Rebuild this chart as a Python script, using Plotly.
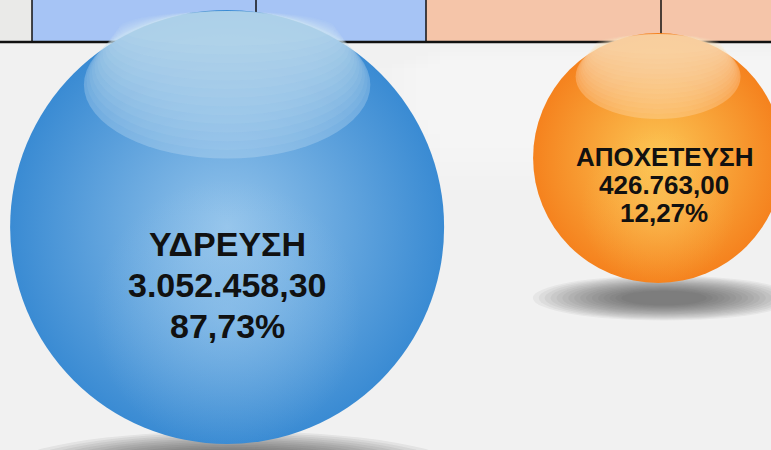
import plotly.graph_objects as go

# ---- data -------------------------------------------------------------
categories = ["ΥΔΡΕΥΣΗ", "ΑΠΟΧΕΤΕΥΣΗ"]
amounts = [3052458.30, 426763.00]

# ---- bubble layout / styling (page pixels) ----------------------------
W, H = 771, 450
X_RANGE = [-0.527, 1.262]          # category axis window
bubble_y = [227, 158]              # bubble centre, pixels from top
bubble_d = [434, 250]              # bubble diameter, pixels
edge_colors = ["#3a8bd3", "#f5821e"]
core_colors = ["#94c4eb", "#fcc654"]
glow_colors = ["rgba(170,210,242,0.55)", "rgba(252,210,110,0.55)"]
shine_rgb = ["205,229,245", "255,228,198"]
shadow_alpha = [0.075, 0.055]
label_size = [34, 26]
label_gap = [41, 28]
label_dy = [58, 27]
label_dx = [0, 6]

total = sum(amounts)
shares = [a / total for a in amounts]


def fmt_amount(v):
    s = f"{v:,.2f}"
    return s.replace(",", "#").replace(".", ",").replace("#", ".")


def fmt_share(p):
    return f"{p * 100:.2f}".replace(".", ",") + "%"


def px_x(i):
    return (i - X_RANGE[0]) / (X_RANGE[1] - X_RANGE[0]) * W


def paper(px, py):
    return px / W, 1 - py / H


fig = go.Figure()

# spheres
fig.add_trace(go.Scatter(
    x=categories,
    y=bubble_y,
    mode="markers",
    marker=dict(
        size=bubble_d,
        sizemode="diameter",
        color=edge_colors,
        gradient=dict(type="radial", color=core_colors),
        line=dict(width=0),
        opacity=1,
    ),
    hoverinfo="skip", showlegend=False,
))

# lower glow inside the spheres
fig.add_trace(go.Scatter(
    x=categories,
    y=[bubble_y[i] + bubble_d[i] * 0.2 for i in range(2)],
    mode="markers",
    marker=dict(
        size=[d * 0.62 for d in bubble_d],
        color=["rgba(170,210,240,0)", "rgba(252,200,90,0)"],
        gradient=dict(type="radial", color=glow_colors),
        line=dict(width=0),
    ),
    hoverinfo="skip", showlegend=False,
))

shapes = []

# table strip along the top of the page
band_h = 42
for x0, x1, col in [(0, 32, "#eaeae8"), (32, 426, "#a6c4f5"), (426, W, "#f5c5a9")]:
    a0, b1 = paper(x0, 0)
    a1, b0 = paper(x1, band_h)
    shapes.append(dict(type="rect", xref="paper", yref="paper", x0=a0, x1=a1,
                       y0=b0, y1=b1, fillcolor=col, line=dict(width=0),
                       layer="below"))
for xv in [32, 256, 426, 661]:
    a, b_top = paper(xv, 0)
    _, b_bot = paper(xv, band_h)
    shapes.append(dict(type="line", xref="paper", yref="paper", x0=a, x1=a,
                       y0=b_bot, y1=b_top, line=dict(color="#111", width=1.5),
                       layer="below"))
_, yb = paper(0, band_h)
shapes.append(dict(type="line", xref="paper", yref="paper", x0=0, x1=1,
                   y0=yb, y1=yb, line=dict(color="#111", width=2.5),
                   layer="below"))

# soft light patch in the background
for k in range(6):
    a0, b1 = paper(440 - k * 12, 48 + k * 4)
    a1, b0 = paper(771, 190 - k * 14)
    shapes.append(dict(type="rect", xref="paper", yref="paper", x0=a0, x1=a1,
                       y0=b0, y1=b1, fillcolor="rgba(255,255,255,0.09)",
                       line=dict(width=0), layer="below"))

# floor shadows under each sphere
n_sh = 16
for i in range(2):
    cx = px_x(i)
    r = bubble_d[i] / 2
    base = bubble_y[i] + r
    for k in range(n_sh):
        f = 1 - k * 0.045
        w = r * 1.05 * f
        h = (r * 0.18) * f
        cy = base + r * 0.12
        a0, b1 = paper(cx + 6 - w, cy - h)
        a1, b0 = paper(cx + 6 + w, cy + h)
        shapes.append(dict(type="circle", xref="paper", yref="paper",
                           x0=a0, x1=a1, y0=b0, y1=b1,
                           fillcolor=f"rgba(60,60,60,{shadow_alpha[i]})",
                           line=dict(width=0), layer="below"))

# glossy highlight cap on each sphere
n_hl = 14
for i in range(2):
    cx = px_x(i)
    r = bubble_d[i] / 2
    top = bubble_y[i] - r
    for k in range(n_hl):
        t = k / (n_hl - 1)
        w = r * (0.66 - 0.16 * t)
        h = r * (0.68 - 0.52 * t)
        alpha = 0.30 if k == 0 else 0.085
        a0, b1 = paper(cx - w, top + 1)
        a1, b0 = paper(cx + w, top + 1 + h)
        shapes.append(dict(type="circle", xref="paper", yref="paper",
                           x0=a0, x1=a1, y0=b0, y1=b1,
                           fillcolor=f"rgba({shine_rgb[i]},{alpha})",
                           line=dict(width=0), layer="above"))

# labels: name, amount and share inside each sphere
annotations = []
for i, cat in enumerate(categories):
    lines = [cat, fmt_amount(amounts[i]), fmt_share(shares[i])]
    for k, txt in enumerate(lines):
        annotations.append(dict(
            x=cat, y=bubble_y[i] + label_dy[i] + (k - 1) * label_gap[i],
            xref="x", yref="y", text=txt, showarrow=False, xshift=label_dx[i],
            font=dict(family="Liberation Sans, Arial, sans-serif",
                      size=label_size[i], color="#111", weight="bold"),
            xanchor="center", yanchor="middle",
        ))

fig.update_layout(
    width=W, height=H,
    margin=dict(l=0, r=0, t=0, b=0),
    paper_bgcolor="#f1f1f1",
    plot_bgcolor="#f1f1f1",
    showlegend=False,
    shapes=shapes,
    annotations=annotations,
    xaxis=dict(type="category", range=X_RANGE, visible=False, fixedrange=True),
    yaxis=dict(range=[H, 0], visible=False, fixedrange=True),
)

fig.write_html("out.html", config={"displayModeBar": False})
